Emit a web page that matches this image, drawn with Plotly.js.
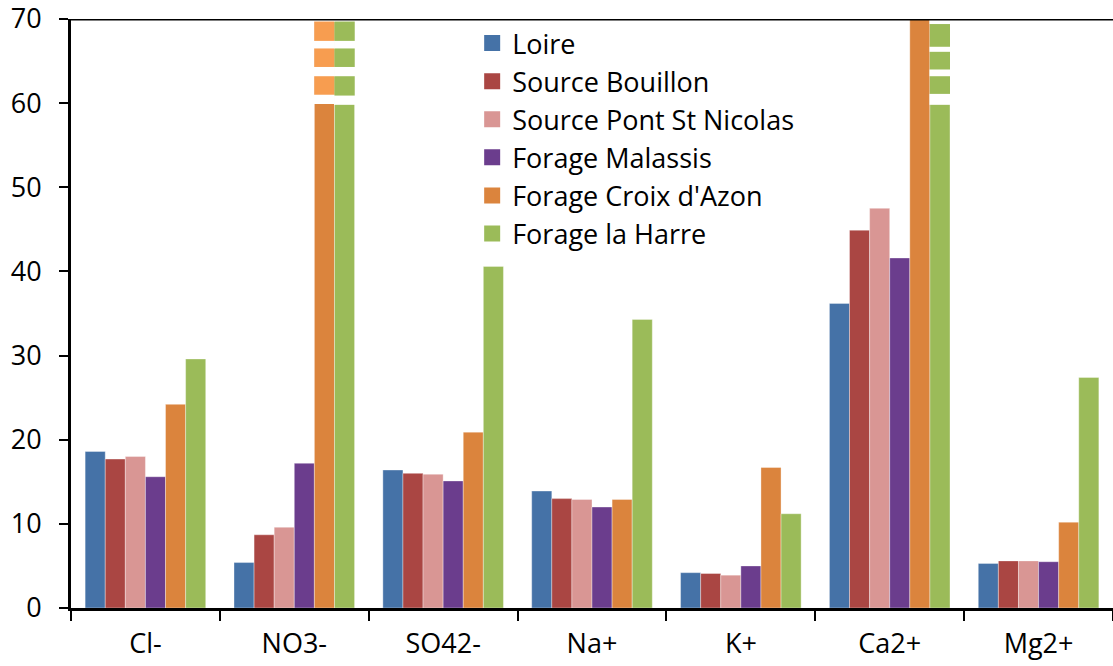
<!DOCTYPE html>
<html>
<head>
<meta charset="utf-8">
<script src="https://cdn.plot.ly/plotly-3.0.1.min.js"></script>
<style>html,body{margin:0;padding:0;background:#fff;}#chart{width:1113px;height:666px;}</style>
</head>
<body>
<div id="chart"></div>
<script>
const categories = ["Cl-", "NO3-", "SO42-", "Na+", "K+", "Ca2+", "Mg2+"];
const seriesNames = ["Loire", "Source Bouillon", "Source Pont St Nicolas", "Forage Malassis", "Forage Croix d'Azon", "Forage la Harre"];
const loire = [18.6, 5.4, 16.4, 13.9, 4.2, 36.2, 5.3];
const sourceBouillon = [17.7, 8.7, 16.0, 13.0, 4.1, 44.9, 5.6];
const sourcePontStNicolas = [18.0, 9.6, 15.9, 12.9, 3.9, 47.5, 5.6];
const forageMalassis = [15.6, 17.2, 15.1, 12.0, 5.0, 41.6, 5.5];
const forageCroixDAzon = [24.2, 85, 20.9, 12.9, 16.7, 72, 10.2];
const forageLaHarre = [29.6, 95, 40.6, 34.3, 11.2, 75, 27.4];
const seriesValues = [loire, sourceBouillon, sourcePontStNicolas, forageMalassis, forageCroixDAzon, forageLaHarre];
const colors = ["#4572A7", "#AA4643", "#D99694", "#6B3D8D", "#DB843D", "#9BBB59"];
const breakColors = {4: "#F79D50", 5: "#9BBB59"};
// axis breaks: [category index, series index, list of white gap ranges]
const breaks = [
  [1, 4, [[59.9, 61.0], [63.2, 64.3], [66.5, 67.4], [69.7, 70]]],
  [1, 5, [[59.8, 60.9], [63.2, 64.3], [66.5, 67.4], [69.7, 70]]],
  [5, 5, [[59.8, 61.1], [63.2, 64.0], [66.1, 66.7], [69.4, 70]]]
];
const yTicks = [0, 10, 20, 30, 40, 50, 60, 70];

const font = "'Open Sans', 'Noto Sans', sans-serif";
const fsize = 27;
const bargap = 0.19;
const nS = seriesNames.length;
const bw = (1 - bargap) / nS;

const traces = seriesNames.map((name, j) => ({
  type: "bar",
  name: name,
  x: categories,
  y: seriesValues[j],
  marker: {color: colors[j], line: {color: "rgba(255,255,255,0.35)", width: 1}},
  showlegend: false,
  hoverinfo: "x+y+name"
}));
// legend proxies (larger square swatches)
seriesNames.forEach((name, j) => {
  traces.push({
    type: "scatter", mode: "markers", name: name,
    x: [null], y: [null],
    marker: {symbol: "square", size: 16, color: colors[j]},
    legendgroup: "g" + j, showlegend: true, hoverinfo: "skip"
  });
});

const shapes = [];
breaks.forEach(([ci, sj, gaps]) => {
  const x0 = ci - (1 - bargap) / 2 + sj * bw;
  const x1 = x0 + bw;
  shapes.push({type: "rect", xref: "x", yref: "y", x0: x0, x1: x1, y0: 60, y1: 70,
    fillcolor: breakColors[sj], line: {width: 0}, layer: "above"});
  gaps.forEach(([a, b]) => {
    shapes.push({type: "rect", xref: "x", yref: "y", x0: x0 - 0.003, x1: x1 + 0.003, y0: a, y1: b,
      fillcolor: "#ffffff", line: {width: 0}, layer: "above"});
  });
});
// top border line of plot area
shapes.push({type: "line", xref: "paper", yref: "y", x0: 0, x1: 1, y0: 70, y1: 70,
  line: {color: "#000", width: 3}, layer: "above"});

const layout = {
  width: 1113, height: 666,
  margin: {l: 71, r: 0, t: 19, b: 58, pad: 0},
  paper_bgcolor: "#fff", plot_bgcolor: "#fff",
  font: {family: font, size: fsize, color: "#000"},
  barmode: "group", bargap: bargap, bargroupgap: 0,
  showlegend: true,
  legend: {x: 0.385, y: 1.0, xanchor: "left", yanchor: "top", bgcolor: "rgba(255,255,255,0)",
    font: {family: font, size: fsize, color: "#000"}, tracegroupgap: 0, traceorder: "normal"},
  xaxis: {type: "category", showgrid: false, zeroline: false, showline: true, linecolor: "#000", linewidth: 3,
    ticks: "outside", tickson: "boundaries", ticklen: 10, tickwidth: 2, tickcolor: "#000",
    tickfont: {family: font, size: fsize, color: "#000"}, ticklabelstandoff: 10},
  yaxis: {range: [0, 70], tickvals: yTicks, showgrid: false, zeroline: false, showline: true, linecolor: "#000", linewidth: 3,
    ticks: "outside", ticklen: 9, tickwidth: 2, tickcolor: "#000", ticklabeloverflow: "allow",
    tickfont: {family: font, size: fsize, color: "#000"}, ticklabelstandoff: 12},
  shapes: shapes
};

Plotly.newPlot("chart", traces, layout, {displayModeBar: false, staticPlot: true});
</script>
</body>
</html>
